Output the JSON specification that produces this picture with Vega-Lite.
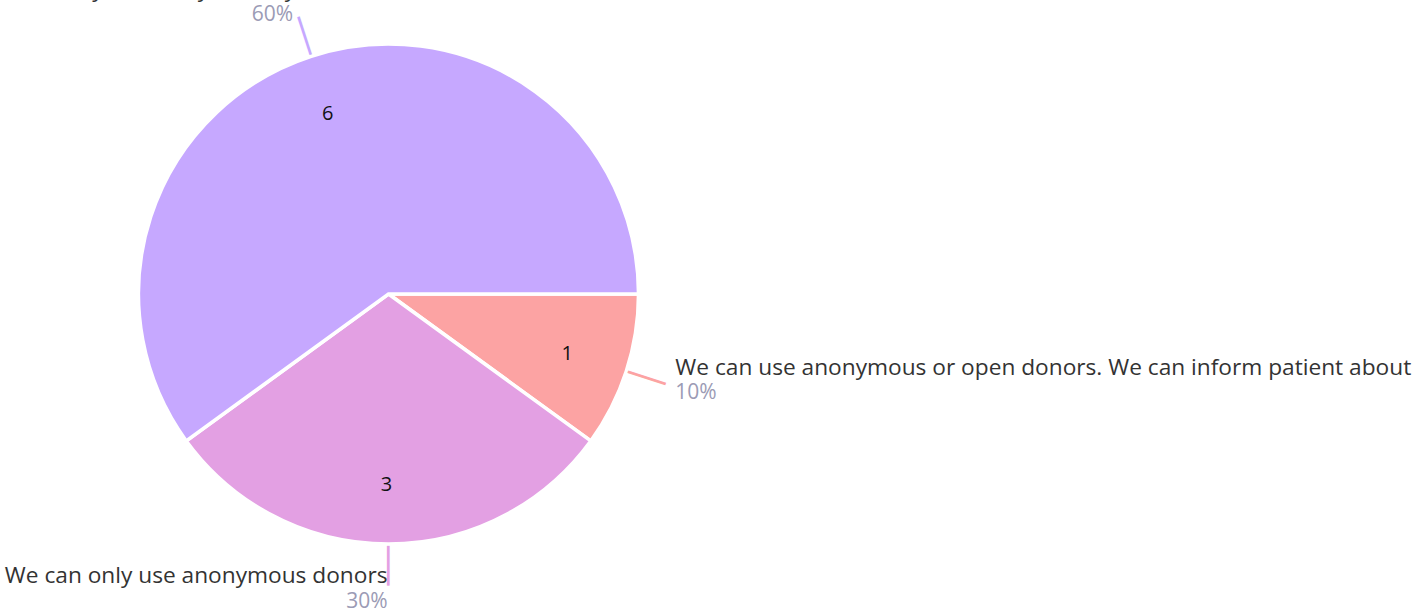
{
  "$schema": "https://vega.github.io/schema/vega-lite/v6.json",
  "width": 777,
  "height": 588,
  "autosize": {"type": "none"},
  "padding": {"left": 0, "top": 0, "right": 639, "bottom": 24},
  "background": "white",
  "config": {"view": {"stroke": null}, "text": {"font": "Open Sans"}},
  "data": {
    "values": [
      {"label": "We can use anonymous or open donors. We can inform patient about the possibilities", "count": 1, "pct": "10%"},
      {"label": "We can only use anonymous donors", "count": 3, "pct": "30%"},
      {"label": "We can only use open-identity donors as mandated by law in my country", "count": 6, "pct": "60%"}
    ]
  },
  "encoding": {
    "theta": {"field": "count", "type": "quantitative", "stack": true, "scale": {"range": [1.5707963, 7.8539816]}},
    "order": {"field": "count", "type": "quantitative", "sort": "ascending"}
  },
  "layer": [
    {
      "mark": {"type": "arc", "outerRadius": 250, "stroke": "white", "strokeWidth": 3.5},
      "encoding": {
        "color": {
          "field": "label", "type": "nominal", "legend": null,
          "scale": {
            "domain": ["We can use anonymous or open donors. We can inform patient about the possibilities", "We can only use anonymous donors", "We can only use open-identity donors as mandated by law in my country"],
            "range": ["#FCA3A3", "#E3A0E3", "#C6A8FF"]
          }
        }
      }
    },
    {
      "mark": {"type": "text", "radius": 190, "fontSize": 20, "color": "#111111", "align": "center", "baseline": "middle", "dx": -2, "dy": 1},
      "encoding": {"text": {"field": "count", "type": "quantitative"}}
    },
    {
      "mark": {"type": "text", "radius": 270, "text": "│", "font": "DejaVu Sans Mono", "fontSize": 33.5, "align": "center", "baseline": "middle"},
      "encoding": {
        "color": {"field": "label", "type": "nominal", "legend": null},
        "angle": {"condition": [{"test": "datum.count == 1", "value": 108}, {"test": "datum.count == 6", "value": 342}], "value": 180}
      }
    },
    {
      "mark": {"type": "text", "radius": 289, "fontSize": 22.7, "color": "#333333", "align": "left", "baseline": "alphabetic", "dx": 12, "dy": -8},
      "encoding": {"text": {"condition": {"test": "datum.count == 1", "field": "label"}, "value": ""}}
    },
    {
      "mark": {"type": "text", "radius": 289, "fontSize": 22.7, "color": "#333333", "align": "right", "baseline": "alphabetic", "dx": -1, "dy": 0},
      "encoding": {"text": {"condition": {"test": "datum.count == 3", "field": "label"}, "value": ""}}
    },
    {
      "mark": {"type": "text", "radius": 289, "fontSize": 22.7, "color": "#333333", "align": "right", "baseline": "alphabetic", "dx": -3, "dy": -22},
      "encoding": {"text": {"condition": {"test": "datum.count == 6", "field": "label"}, "value": ""}}
    },
    {
      "mark": {"type": "text", "radius": 289, "fontSize": 21, "color": "#9B9BB5", "align": "left", "baseline": "alphabetic", "dx": 12, "dy": 16},
      "encoding": {"text": {"condition": {"test": "datum.count == 1", "field": "pct"}, "value": ""}}
    },
    {
      "mark": {"type": "text", "radius": 289, "fontSize": 21, "color": "#9B9BB5", "align": "right", "baseline": "alphabetic", "dx": -1, "dy": 25},
      "encoding": {"text": {"condition": {"test": "datum.count == 3", "field": "pct"}, "value": ""}}
    },
    {
      "mark": {"type": "text", "radius": 289, "fontSize": 21, "color": "#9B9BB5", "align": "right", "baseline": "alphabetic", "dx": -6, "dy": 2},
      "encoding": {"text": {"condition": {"test": "datum.count == 6", "field": "pct"}, "value": ""}}
    }
  ]
}
